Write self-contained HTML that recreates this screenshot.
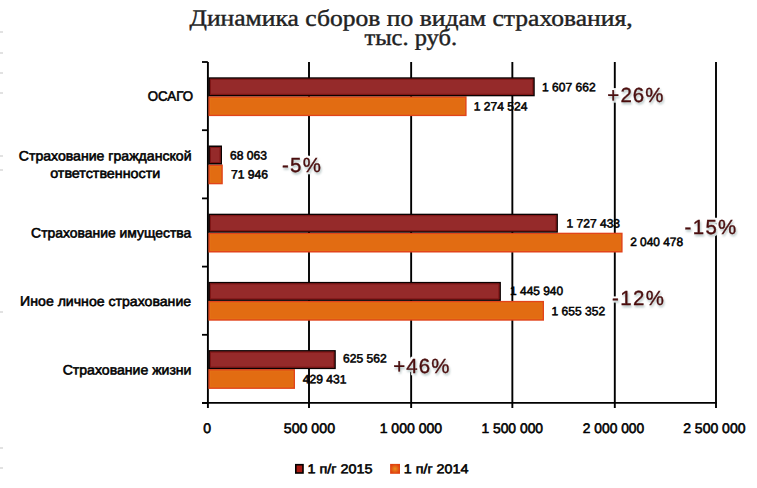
<!DOCTYPE html>
<html><head><meta charset="utf-8">
<style>
html,body{margin:0;padding:0;background:#fff;width:757px;height:488px;overflow:hidden}
svg{display:block}
text{font-family:"Liberation Sans",sans-serif;fill:#111;white-space:pre;text-rendering:geometricPrecision}
.tt{font-family:"Liberation Serif",serif;fill:#222;stroke:#222;stroke-width:0.4px}
.pc{fill:#4a0d0d;stroke:#4a0d0d;stroke-width:0.35px;filter:url(#sh)}
.cl{fill:#000;stroke:#000;stroke-width:0.55px}
.dl,.xl,.lg{fill:#000;stroke:#000;stroke-width:0.55px}
.tt{font-size:23.0px;font-weight:normal}
.cl{font-size:13.6px;font-weight:normal}
.dl{font-size:12.1px;font-weight:normal}
.pc{font-size:20.416788487998776px;font-weight:normal}
.xl{font-size:13.8px;font-weight:normal}
.lg{font-size:12.95px;font-weight:normal}
</style></head><body>
<svg width="757" height="488" viewBox="0 0 757 488">
<defs><filter id="sh" x="-20%" y="-30%" width="140%" height="170%" color-interpolation-filters="sRGB">
<feMorphology in="SourceAlpha" operator="dilate" radius="1.8" result="d"/>
<feGaussianBlur in="d" stdDeviation="0.5" result="db"/>
<feFlood flood-color="#fff"/><feComposite in2="db" operator="in" result="white"/>
<feOffset in="SourceAlpha" dx="0.6" dy="1.6" result="o"/>
<feGaussianBlur in="o" stdDeviation="0.8" result="ob"/>
<feFlood flood-color="#7a9696" flood-opacity="0.6"/><feComposite in2="ob" operator="in" result="shadow"/>
<feMerge><feMergeNode in="white"/><feMergeNode in="shadow"/><feMergeNode in="SourceGraphic"/></feMerge>
</filter></defs>
<rect x="0" y="31.4" width="3" height="1.2" fill="#cfcfcf"/>
<rect x="0" y="52.4" width="3" height="1.2" fill="#cfcfcf"/>
<rect x="0" y="72.4" width="3" height="1.2" fill="#cfcfcf"/>
<rect x="0" y="92.4" width="3" height="1.2" fill="#cfcfcf"/>
<rect x="0" y="155.4" width="3" height="1.2" fill="#cfcfcf"/>
<rect x="0" y="169.4" width="3" height="1.2" fill="#cfcfcf"/>
<rect x="0" y="311.4" width="3" height="1.2" fill="#cfcfcf"/>
<rect x="0" y="447.4" width="3" height="1.2" fill="#cfcfcf"/>
<rect x="0" y="467.4" width="3" height="1.2" fill="#cfcfcf"/>
<line x1="207.90" y1="62.0" x2="207.90" y2="408.0" stroke="#000" stroke-width="1.9"/>
<line x1="309.00" y1="62.0" x2="309.00" y2="408.0" stroke="#000" stroke-width="1.9"/>
<line x1="411.15" y1="62.0" x2="411.15" y2="408.0" stroke="#000" stroke-width="1.9"/>
<line x1="512.35" y1="62.0" x2="512.35" y2="408.0" stroke="#000" stroke-width="1.9"/>
<line x1="614.80" y1="62.0" x2="614.80" y2="408.0" stroke="#000" stroke-width="1.9"/>
<line x1="716.00" y1="62.0" x2="716.00" y2="408.0" stroke="#000" stroke-width="1.9"/>
<line x1="202" y1="62.00" x2="207.8" y2="62.00" stroke="#000" stroke-width="1.8"/>
<line x1="202" y1="130.20" x2="207.8" y2="130.20" stroke="#000" stroke-width="1.8"/>
<line x1="202" y1="198.40" x2="207.8" y2="198.40" stroke="#000" stroke-width="1.8"/>
<line x1="202" y1="266.60" x2="207.8" y2="266.60" stroke="#000" stroke-width="1.8"/>
<line x1="202" y1="334.80" x2="207.8" y2="334.80" stroke="#000" stroke-width="1.8"/>
<line x1="202" y1="403.00" x2="207.8" y2="403.00" stroke="#000" stroke-width="1.8"/>
<line x1="202" y1="402.9" x2="717.0" y2="402.9" stroke="#000" stroke-width="1.9"/>
<rect x="209.15" y="97.05" width="256.70" height="18.30" fill="#e26c12" stroke="#e2441a" stroke-width="1.5"/>
<rect x="210.40" y="98.30" width="254.20" height="15.80" fill="none" stroke="#e47418" stroke-width="1" opacity="0.6"/>
<rect x="209.15" y="78.05" width="324.85" height="17.50" fill="#952a2a" stroke="#0a0202" stroke-width="1.5"/>
<rect x="210.40" y="79.30" width="322.35" height="15.00" fill="none" stroke="#7e1414" stroke-width="1"/>
<rect x="209.15" y="165.25" width="12.90" height="18.30" fill="#e26c12" stroke="#e2441a" stroke-width="1.5"/>
<rect x="210.40" y="166.50" width="10.40" height="15.80" fill="none" stroke="#e47418" stroke-width="1" opacity="0.6"/>
<rect x="209.15" y="146.25" width="12.10" height="17.50" fill="#952a2a" stroke="#0a0202" stroke-width="1.5"/>
<rect x="210.40" y="147.50" width="9.60" height="15.00" fill="none" stroke="#7e1414" stroke-width="1"/>
<rect x="209.15" y="233.45" width="412.70" height="18.30" fill="#e26c12" stroke="#e2441a" stroke-width="1.5"/>
<rect x="210.40" y="234.70" width="410.20" height="15.80" fill="none" stroke="#e47418" stroke-width="1" opacity="0.6"/>
<rect x="209.15" y="214.45" width="348.00" height="17.50" fill="#952a2a" stroke="#0a0202" stroke-width="1.5"/>
<rect x="210.40" y="215.70" width="345.50" height="15.00" fill="none" stroke="#7e1414" stroke-width="1"/>
<rect x="209.15" y="301.65" width="334.10" height="18.30" fill="#e26c12" stroke="#e2441a" stroke-width="1.5"/>
<rect x="210.40" y="302.90" width="331.60" height="15.80" fill="none" stroke="#e47418" stroke-width="1" opacity="0.6"/>
<rect x="209.15" y="282.65" width="291.00" height="17.50" fill="#952a2a" stroke="#0a0202" stroke-width="1.5"/>
<rect x="210.40" y="283.90" width="288.50" height="15.00" fill="none" stroke="#7e1414" stroke-width="1"/>
<rect x="209.15" y="369.85" width="85.10" height="18.30" fill="#e26c12" stroke="#e2441a" stroke-width="1.5"/>
<rect x="210.40" y="371.10" width="82.60" height="15.80" fill="none" stroke="#e47418" stroke-width="1" opacity="0.6"/>
<rect x="209.15" y="350.85" width="125.90" height="17.50" fill="#952a2a" stroke="#0a0202" stroke-width="1.5"/>
<rect x="210.40" y="352.10" width="123.40" height="15.00" fill="none" stroke="#7e1414" stroke-width="1"/>
<rect x="295.8" y="464.7" width="7.2" height="8.3" fill="#a81a12" stroke="#000" stroke-width="1.6"/>
<radialGradient id="og"><stop offset="0" stop-color="#e8901e"/><stop offset="1" stop-color="#e0400e"/></radialGradient><rect x="390.1" y="463.9" width="9.9" height="9.9" fill="url(#og)"/>
<text id="t1" class="tt" x="189.45" y="25.60" transform="matrix(1 0.0005 0 1 0 -0.0947)" textLength="443.20" lengthAdjust="spacingAndGlyphs">Динамика сборов по видам страхования,</text>
<text id="t2" class="tt" x="364.44" y="45.00" transform="matrix(1 0.0005 0 1 0 -0.1822)" textLength="92.64" lengthAdjust="spacingAndGlyphs">тыс. руб.</text>
<text id="c1" class="cl" x="147.70" y="100.66" transform="matrix(1 0.0005 0 1 0 -0.0738)" textLength="45.36" lengthAdjust="spacingAndGlyphs">ОСАГО</text>
<text id="c2a" class="cl" x="18.78" y="160.50" transform="matrix(1 0.0005 0 1 0 -0.0094)" textLength="172.74" lengthAdjust="spacingAndGlyphs">Страхование гражданской</text>
<text id="c2b" class="cl" x="50.20" y="177.87" transform="matrix(1 0.0005 0 1 0 -0.0251)" textLength="110.06" lengthAdjust="spacingAndGlyphs">ответственности</text>
<text id="c3" class="cl" x="31.13" y="237.44" transform="matrix(1 0.0005 0 1 0 -0.0156)" textLength="160.17" lengthAdjust="spacingAndGlyphs">Страхование имущества</text>
<text id="c4" class="cl" x="20.11" y="305.87" transform="matrix(1 0.0005 0 1 0 -0.0101)" textLength="171.00" lengthAdjust="spacingAndGlyphs">Иное личное страхование</text>
<text id="c5" class="cl" x="62.70" y="374.47" transform="matrix(1 0.0005 0 1 0 -0.0314)" textLength="128.81" lengthAdjust="spacingAndGlyphs">Страхование жизни</text>
<text id="d1a" class="dl" x="542.04" y="91.29" transform="matrix(1 0.0005 0 1 0 -0.2710)" textLength="53.57" lengthAdjust="spacingAndGlyphs">1 607 662</text>
<text id="d1b" class="dl" x="473.81" y="110.60" transform="matrix(1 0.0005 0 1 0 -0.2369)" textLength="53.64" lengthAdjust="spacingAndGlyphs">1 274 524</text>
<text id="d2a" class="dl" x="229.97" y="159.49" transform="matrix(1 0.0005 0 1 0 -0.1150)" textLength="36.92" lengthAdjust="spacingAndGlyphs">68 063</text>
<text id="d2b" class="dl" x="230.97" y="178.61" transform="matrix(1 0.0005 0 1 0 -0.1155)" textLength="37.16" lengthAdjust="spacingAndGlyphs">71 946</text>
<text id="d3a" class="dl" x="566.48" y="227.59" transform="matrix(1 0.0005 0 1 0 -0.2832)" textLength="53.57" lengthAdjust="spacingAndGlyphs">1 727 433</text>
<text id="d3b" class="dl" x="630.15" y="246.10" transform="matrix(1 0.0005 0 1 0 -0.3151)" textLength="52.93" lengthAdjust="spacingAndGlyphs">2 040 478</text>
<text id="d4a" class="dl" x="510.10" y="295.08" transform="matrix(1 0.0005 0 1 0 -0.2551)" textLength="53.05" lengthAdjust="spacingAndGlyphs">1 445 940</text>
<text id="d4b" class="dl" x="551.52" y="315.32" transform="matrix(1 0.0005 0 1 0 -0.2758)" textLength="53.60" lengthAdjust="spacingAndGlyphs">1 655 352</text>
<text id="d5a" class="dl" x="343.00" y="362.57" transform="matrix(1 0.0005 0 1 0 -0.1715)" textLength="43.72" lengthAdjust="spacingAndGlyphs">625 562</text>
<text id="d5b" class="dl" x="302.74" y="383.37" transform="matrix(1 0.0005 0 1 0 -0.1514)" textLength="43.65" lengthAdjust="spacingAndGlyphs">429 431</text>
<text id="p1" class="pc" x="607.36" y="101.56" transform="matrix(1 0.0005 0 1 0 -0.3037)" textLength="56.13" lengthAdjust="spacing">+26%</text>
<text id="p2" class="pc" x="282.11" y="171.73" transform="matrix(1 0.0005 0 1 0 -0.1411)" textLength="38.70" lengthAdjust="spacing">-5%</text>
<text id="p3" class="pc" x="684.50" y="233.63" transform="matrix(1 0.0005 0 1 0 -0.3422)" textLength="51.77" lengthAdjust="spacing">-15%</text>
<text id="p4" class="pc" x="612.11" y="304.97" transform="matrix(1 0.0005 0 1 0 -0.3061)" textLength="51.68" lengthAdjust="spacing">-12%</text>
<text id="p5" class="pc" x="393.15" y="372.94" transform="matrix(1 0.0005 0 1 0 -0.1966)" textLength="56.36" lengthAdjust="spacing">+46%</text>
<text id="x0" class="xl" x="203.28" y="433.11" transform="matrix(1 0.0005 0 1 0 -0.1016)" textLength="7.82" lengthAdjust="spacingAndGlyphs">0</text>
<text id="x1" class="xl" x="283.78" y="432.96" transform="matrix(1 0.0005 0 1 0 -0.1419)" textLength="51.27" lengthAdjust="spacingAndGlyphs">500 000</text>
<text id="x2" class="xl" x="379.67" y="432.98" transform="matrix(1 0.0005 0 1 0 -0.1898)" textLength="62.50" lengthAdjust="spacingAndGlyphs">1 000 000</text>
<text id="x3" class="xl" x="481.40" y="432.95" transform="matrix(1 0.0005 0 1 0 -0.2407)" textLength="61.69" lengthAdjust="spacingAndGlyphs">1 500 000</text>
<text id="x4" class="xl" x="582.85" y="432.93" transform="matrix(1 0.0005 0 1 0 -0.2914)" textLength="61.29" lengthAdjust="spacingAndGlyphs">2 000 000</text>
<text id="x5" class="xl" x="683.18" y="432.95" transform="matrix(1 0.0005 0 1 0 -0.3416)" textLength="62.30" lengthAdjust="spacingAndGlyphs">2 500 000</text>
<text id="l1" class="lg" x="307.44" y="473.19" transform="matrix(1 0.0005 0 1 0 -0.1537)" textLength="65.14" lengthAdjust="spacingAndGlyphs">1 п/г 2015</text>
<text id="l2" class="lg" x="403.74" y="473.16" transform="matrix(1 0.0005 0 1 0 -0.2019)" textLength="64.75" lengthAdjust="spacingAndGlyphs">1 п/г 2014</text>
</svg>
</body></html>
